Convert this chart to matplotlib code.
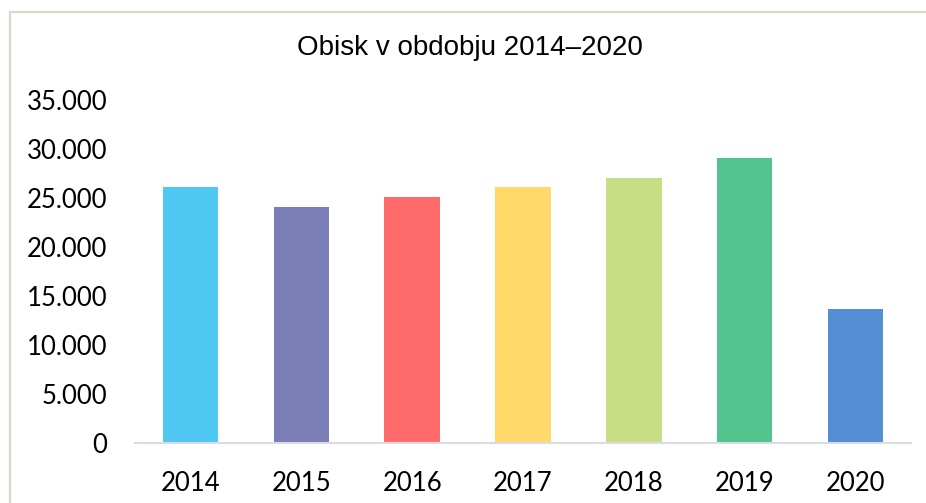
import matplotlib.pyplot as plt
from matplotlib.patches import Rectangle
from matplotlib.ticker import FuncFormatter

# data
years = ['2014', '2015', '2016', '2017', '2018', '2019', '2020']
visits = [26100, 24100, 25100, 26100, 27000, 29100, 13700]
colors = ['#50c8f4', '#7b7db6', '#ff6b6b', '#ffda6b', '#c8de84', '#52c48e', '#558ed5']

fig = plt.figure(figsize=(9.26, 5.03), dpi=100)
ax = fig.add_axes([0.1458, 0.1193, 0.838, 0.6819])

ax.bar(range(len(years)), visits, width=0.5, color=colors)
ax.set_xlim(-0.5, len(years) - 0.5)
ax.set_ylim(0, 35000)
ax.set_yticks(range(0, 35001, 5000))
ax.yaxis.set_major_formatter(FuncFormatter(lambda v, p: f"{int(v):,}".replace(',', '.')))
ax.set_xticks(range(len(years)))
ax.set_xticklabels(years)

for s in ['top', 'right', 'left']:
    ax.spines[s].set_visible(False)
ax.spines['bottom'].set_color('#d9dde3')
ax.spines['bottom'].set_linewidth(1.5)
ax.tick_params(length=0, labelsize=18.5)
ax.tick_params(axis='x', pad=20)
ax.tick_params(axis='y', pad=20)
for lab in ax.get_xticklabels() + ax.get_yticklabels():
    lab.set_fontfamily('Lato')

fig.text(0.507, 0.905, 'Obisk v obdobju 2014–2020', ha='center', va='center',
         fontsize=20, fontfamily='Liberation Sans')

# outer chart border (only left and top edges visible)
fig.patches.append(Rectangle((9.5 / 926, -0.1), 1.2, 1.1 - 12.5 / 503 + 0.0,
                             transform=fig.transFigure, fill=False,
                             edgecolor='#d9d9c6', linewidth=1.6))

fig.savefig('out.png', dpi=100)
